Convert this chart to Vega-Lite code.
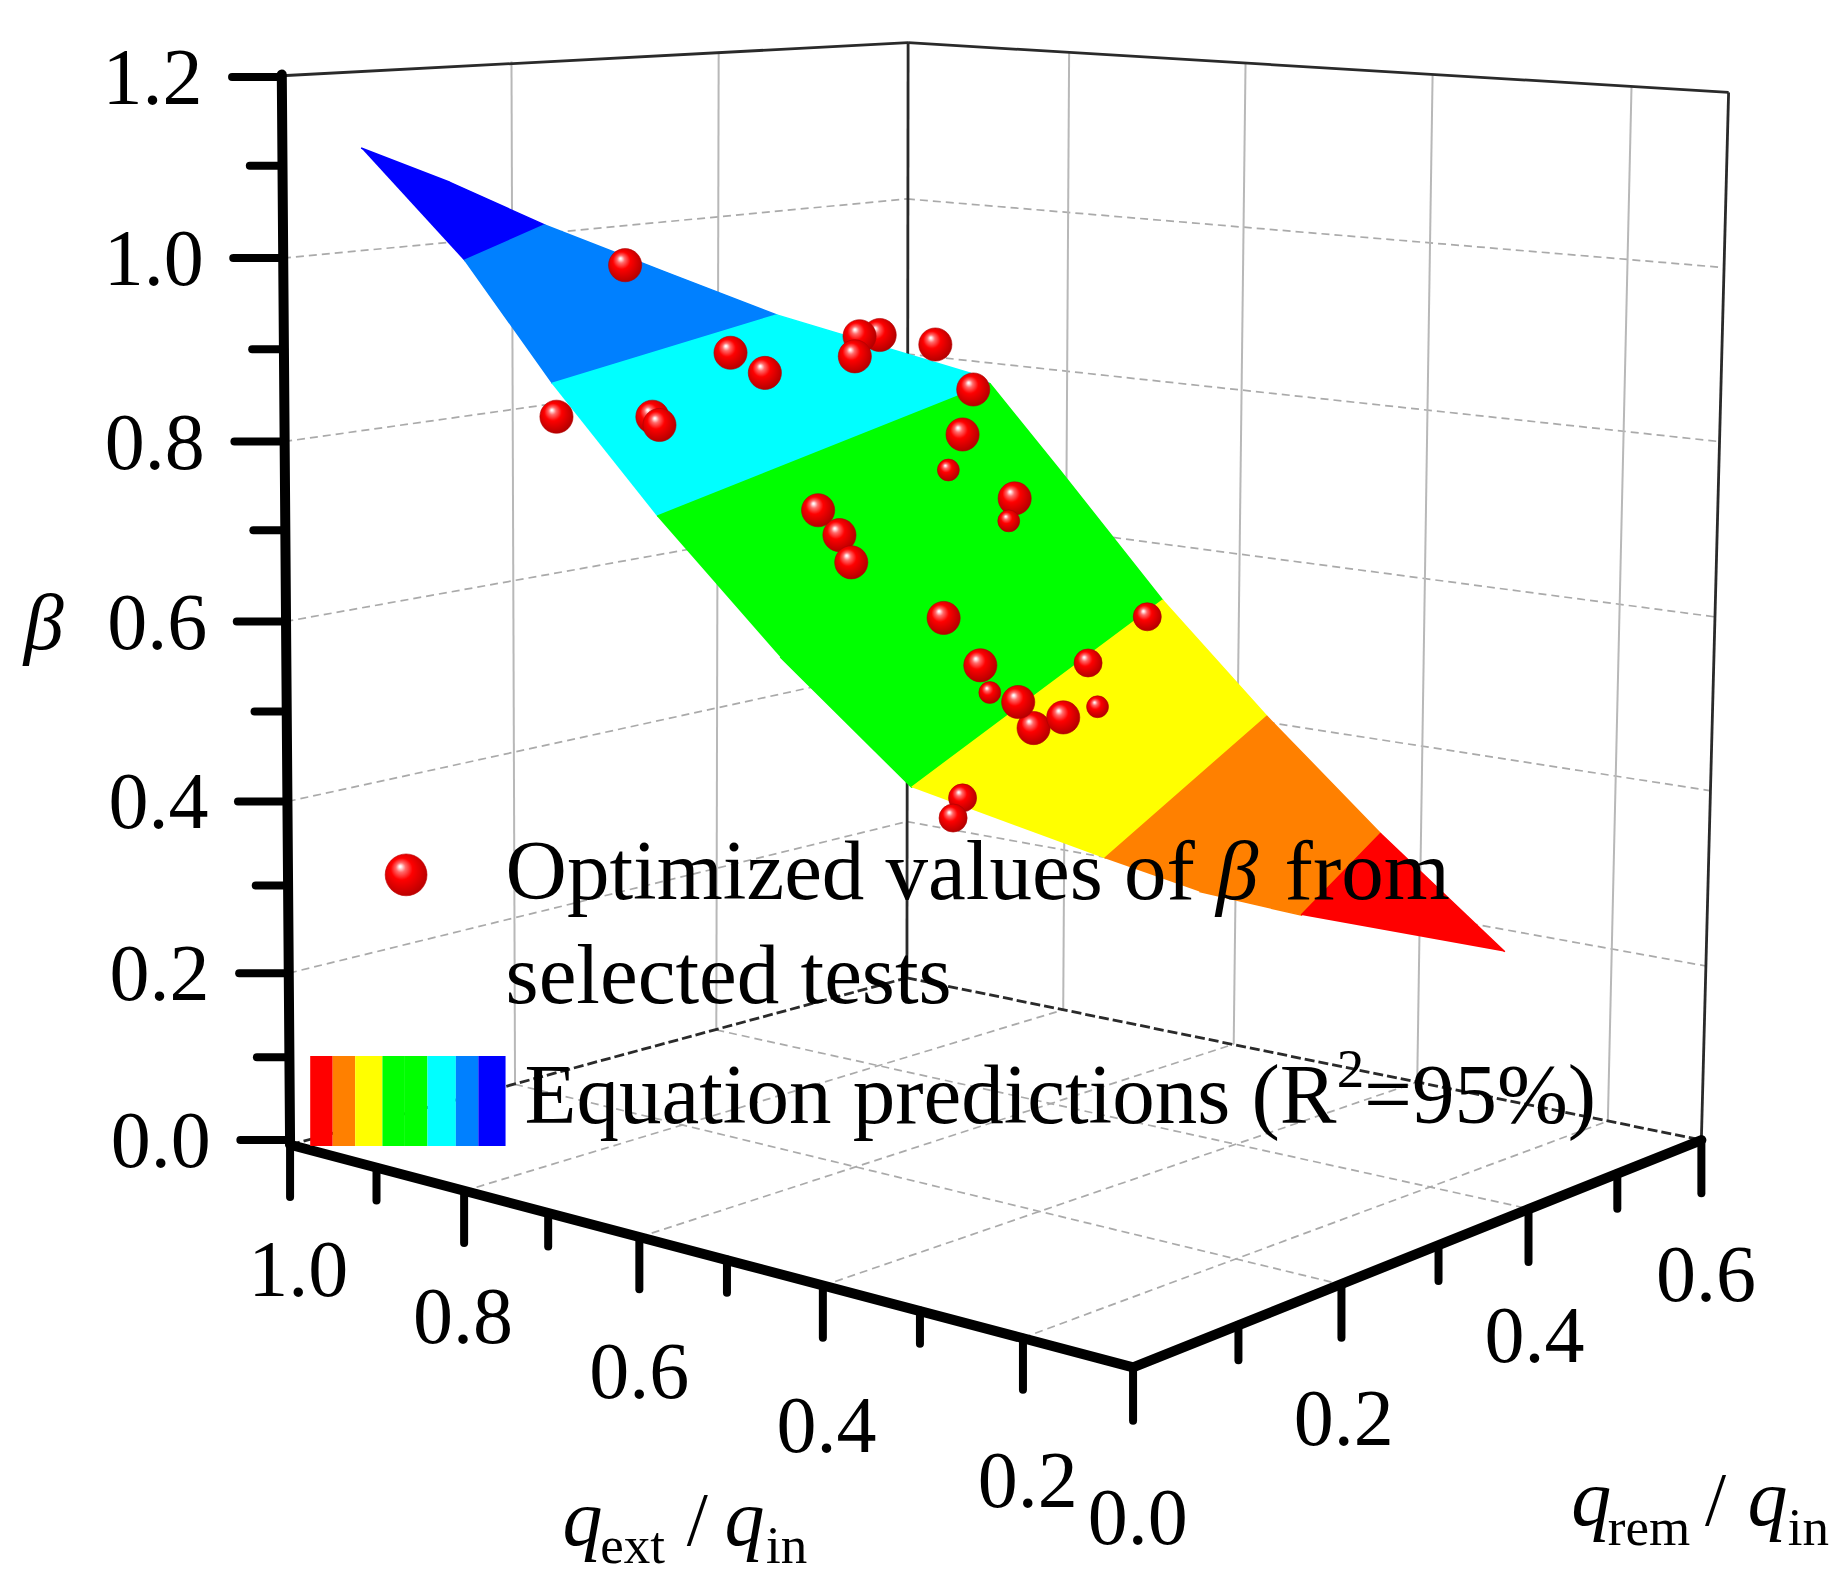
{
  "$schema": "https://vega.github.io/schema/vega-lite/v6.json",
  "width": 1847,
  "height": 1584,
  "autosize": {"type": "fit", "contains": "padding"},
  "padding": 0,
  "background": "white",
  "config": {"view": {"stroke": null}},
  "datasets": {
    "segments": [
      {"kind": "gridh", "x": 244, "y": 822, "x2": 766, "y2": 694},
      {"kind": "gridh", "x": 243, "y": 677, "x2": 766, "y2": 563},
      {"kind": "gridh", "x": 241, "y": 525, "x2": 766, "y2": 431},
      {"kind": "gridh", "x": 240, "y": 373, "x2": 766, "y2": 299},
      {"kind": "gridh", "x": 239, "y": 218, "x2": 766, "y2": 168},
      {"kind": "gridh", "x": 766, "y": 694, "x2": 1441, "y2": 816},
      {"kind": "gridh", "x": 766, "y": 563, "x2": 1445, "y2": 668},
      {"kind": "gridh", "x": 766, "y": 431, "x2": 1448, "y2": 521},
      {"kind": "gridh", "x": 766, "y": 299, "x2": 1452, "y2": 373},
      {"kind": "gridh", "x": 766, "y": 168, "x2": 1456, "y2": 226},
      {"kind": "gridh", "x": 392, "y": 1006, "x2": 898, "y2": 853},
      {"kind": "gridh", "x": 540, "y": 1045, "x2": 1042, "y2": 882},
      {"kind": "gridh", "x": 695, "y": 1086, "x2": 1197, "y2": 914},
      {"kind": "gridh", "x": 864, "y": 1130, "x2": 1358, "y2": 947},
      {"kind": "gridh", "x": 435, "y": 916, "x2": 1133, "y2": 1085},
      {"kind": "gridh", "x": 605, "y": 870, "x2": 1291, "y2": 1021},
      {"kind": "gridv", "x": 432, "y": 52, "x2": 435, "y2": 916},
      {"kind": "gridv", "x": 607, "y": 44, "x2": 605, "y2": 870},
      {"kind": "gridv", "x": 903, "y": 44, "x2": 898, "y2": 853},
      {"kind": "gridv", "x": 1052, "y": 53, "x2": 1042, "y2": 882},
      {"kind": "gridv", "x": 1210, "y": 63, "x2": 1197, "y2": 914},
      {"kind": "gridv", "x": 1378, "y": 73, "x2": 1358, "y2": 947},
      {"kind": "edge", "x": 238, "y": 64, "x2": 767, "y2": 36},
      {"kind": "edge", "x": 767, "y": 36, "x2": 1460, "y2": 78},
      {"kind": "edge", "x": 1460, "y": 78, "x2": 1437, "y2": 963},
      {"kind": "edge", "x": 767, "y": 36, "x2": 766, "y2": 826},
      {"kind": "edged", "x": 245, "y": 967, "x2": 766, "y2": 826},
      {"kind": "edged", "x": 766, "y": 826, "x2": 1437, "y2": 963},
      {"kind": "axis", "x": 245, "y": 966, "x2": 238, "y2": 63},
      {"kind": "axis", "x": 245, "y": 967, "x2": 957, "y2": 1155},
      {"kind": "axis", "x": 957, "y": 1155, "x2": 1437, "y2": 963},
      {"kind": "tick", "x": 245, "y": 963, "x2": 203, "y2": 963},
      {"kind": "tick", "x": 244, "y": 893, "x2": 217, "y2": 893},
      {"kind": "tick", "x": 244, "y": 822, "x2": 202, "y2": 822},
      {"kind": "tick", "x": 243, "y": 748, "x2": 216, "y2": 748},
      {"kind": "tick", "x": 243, "y": 677, "x2": 201, "y2": 677},
      {"kind": "tick", "x": 242, "y": 601, "x2": 215, "y2": 601},
      {"kind": "tick", "x": 241, "y": 525, "x2": 200, "y2": 525},
      {"kind": "tick", "x": 241, "y": 448, "x2": 214, "y2": 448},
      {"kind": "tick", "x": 240, "y": 373, "x2": 198, "y2": 373},
      {"kind": "tick", "x": 240, "y": 295, "x2": 213, "y2": 295},
      {"kind": "tick", "x": 239, "y": 218, "x2": 197, "y2": 218},
      {"kind": "tick", "x": 239, "y": 140, "x2": 211, "y2": 140},
      {"kind": "tick", "x": 238, "y": 65, "x2": 196, "y2": 65},
      {"kind": "tick", "x": 245, "y": 967, "x2": 245, "y2": 1011},
      {"kind": "tick", "x": 318, "y": 986, "x2": 318, "y2": 1014},
      {"kind": "tick", "x": 392, "y": 1006, "x2": 392, "y2": 1050},
      {"kind": "tick", "x": 463, "y": 1025, "x2": 463, "y2": 1053},
      {"kind": "tick", "x": 540, "y": 1045, "x2": 540, "y2": 1089},
      {"kind": "tick", "x": 614, "y": 1064, "x2": 614, "y2": 1092},
      {"kind": "tick", "x": 695, "y": 1086, "x2": 695, "y2": 1130},
      {"kind": "tick", "x": 777, "y": 1107, "x2": 777, "y2": 1135},
      {"kind": "tick", "x": 864, "y": 1130, "x2": 864, "y2": 1174},
      {"kind": "tick", "x": 957, "y": 1155, "x2": 957, "y2": 1200},
      {"kind": "tick", "x": 1046, "y": 1119, "x2": 1046, "y2": 1149},
      {"kind": "tick", "x": 1133, "y": 1085, "x2": 1133, "y2": 1130},
      {"kind": "tick", "x": 1215, "y": 1052, "x2": 1215, "y2": 1082},
      {"kind": "tick", "x": 1291, "y": 1021, "x2": 1291, "y2": 1066},
      {"kind": "tick", "x": 1366, "y": 991, "x2": 1366, "y2": 1021},
      {"kind": "tick", "x": 1437, "y": 963, "x2": 1437, "y2": 1008}
    ],
    "surface": [
      {"level": 8, "v": 1, "x": 305, "y": 125},
      {"level": 8, "v": 2, "x": 380, "y": 154},
      {"level": 8, "v": 3, "x": 460, "y": 190},
      {"level": 8, "v": 4, "x": 392, "y": 220},
      {"level": 7, "v": 1, "x": 392, "y": 220},
      {"level": 7, "v": 2, "x": 460, "y": 190},
      {"level": 7, "v": 3, "x": 560, "y": 229},
      {"level": 7, "v": 4, "x": 656, "y": 266},
      {"level": 7, "v": 5, "x": 466, "y": 324},
      {"level": 6, "v": 1, "x": 466, "y": 324},
      {"level": 6, "v": 2, "x": 656, "y": 266},
      {"level": 6, "v": 3, "x": 819, "y": 315},
      {"level": 6, "v": 4, "x": 836, "y": 324},
      {"level": 6, "v": 5, "x": 555, "y": 436},
      {"level": 4, "v": 1, "x": 555, "y": 436},
      {"level": 4, "v": 2, "x": 836, "y": 324},
      {"level": 4, "v": 3, "x": 895, "y": 397},
      {"level": 4, "v": 4, "x": 982, "y": 507},
      {"level": 4, "v": 5, "x": 770, "y": 665},
      {"level": 4, "v": 6, "x": 659, "y": 555},
      {"level": 3, "v": 1, "x": 770, "y": 665},
      {"level": 3, "v": 2, "x": 982, "y": 507},
      {"level": 3, "v": 3, "x": 1070, "y": 605},
      {"level": 3, "v": 4, "x": 933, "y": 725},
      {"level": 2, "v": 1, "x": 933, "y": 725},
      {"level": 2, "v": 2, "x": 1070, "y": 605},
      {"level": 2, "v": 3, "x": 1166, "y": 704},
      {"level": 2, "v": 4, "x": 1099, "y": 773},
      {"level": 2, "v": 5, "x": 1013, "y": 753},
      {"level": 1, "v": 1, "x": 1099, "y": 773},
      {"level": 1, "v": 2, "x": 1166, "y": 704},
      {"level": 1, "v": 3, "x": 1271, "y": 804}
    ],
    "colorbar": [
      {"level": 1, "x": 262, "x2": 281, "y": 892, "y2": 968},
      {"level": 2, "x": 281, "x2": 300, "y": 892, "y2": 968},
      {"level": 3, "x": 300, "x2": 323, "y": 892, "y2": 968},
      {"level": 4, "x": 323, "x2": 342, "y": 892, "y2": 968},
      {"level": 5, "x": 342, "x2": 361, "y": 892, "y2": 968},
      {"level": 6, "x": 361, "x2": 385, "y": 892, "y2": 968},
      {"level": 7, "x": 385, "x2": 404, "y": 892, "y2": 968},
      {"level": 8, "x": 404, "x2": 427, "y": 892, "y2": 968}
    ],
    "points": [
      {"x": 470, "y": 352, "part": "full"},
      {"x": 528, "y": 224, "part": "full"},
      {"x": 551, "y": 352, "part": "full"},
      {"x": 557, "y": 359, "part": "full"},
      {"x": 617, "y": 298, "part": "full"},
      {"x": 646, "y": 315, "part": "full"},
      {"x": 743, "y": 283, "part": "full"},
      {"x": 726, "y": 284, "part": "full"},
      {"x": 722, "y": 301, "part": "full"},
      {"x": 790, "y": 291, "part": "full"},
      {"x": 822, "y": 329, "part": "full"},
      {"x": 813, "y": 367, "part": "full"},
      {"x": 801, "y": 397, "part": "tiny"},
      {"x": 857, "y": 421, "part": "full"},
      {"x": 852, "y": 440, "part": "tiny"},
      {"x": 691, "y": 431, "part": "full"},
      {"x": 709, "y": 452, "part": "full"},
      {"x": 719, "y": 475, "part": "full"},
      {"x": 797, "y": 522, "part": "full"},
      {"x": 828, "y": 562, "part": "full"},
      {"x": 836, "y": 585, "part": "tiny"},
      {"x": 873, "y": 615, "part": "full"},
      {"x": 860, "y": 593, "part": "full"},
      {"x": 898, "y": 606, "part": "full"},
      {"x": 919, "y": 560, "part": "partial"},
      {"x": 927, "y": 597, "part": "tiny"},
      {"x": 969, "y": 521, "part": "partial"},
      {"x": 813, "y": 674, "part": "partial"},
      {"x": 805, "y": 691, "part": "partial"}
    ],
    "legendpoint": [{"x": 343, "y": 739}],
    "texts": [
      {"role": "zlab", "x": 178, "y": 963, "text": "0.0"},
      {"role": "zlab", "x": 177, "y": 822, "text": "0.2"},
      {"role": "zlab", "x": 176, "y": 677, "text": "0.4"},
      {"role": "zlab", "x": 175, "y": 525, "text": "0.6"},
      {"role": "zlab", "x": 173, "y": 373, "text": "0.8"},
      {"role": "zlab", "x": 172, "y": 218, "text": "1.0"},
      {"role": "zlab", "x": 171, "y": 65, "text": "1.2"},
      {"role": "hlab", "x": 252, "y": 1072, "text": "1.0"},
      {"role": "hlab", "x": 391, "y": 1112, "text": "0.8"},
      {"role": "hlab", "x": 540, "y": 1158, "text": "0.6"},
      {"role": "hlab", "x": 698, "y": 1204, "text": "0.4"},
      {"role": "hlab", "x": 868, "y": 1250, "text": "0.2"},
      {"role": "hlab", "x": 961, "y": 1281, "text": "0.0"},
      {"role": "hlab", "x": 1135, "y": 1198, "text": "0.2"},
      {"role": "hlab", "x": 1296, "y": 1128, "text": "0.4"},
      {"role": "hlab", "x": 1441, "y": 1076, "text": "0.6"},
      {"role": "italic", "x": 20, "y": 548, "text": "β"},
      {"role": "italic", "x": 475, "y": 1305, "text": "q"},
      {"role": "italic", "x": 612, "y": 1305, "text": "q"},
      {"role": "italic", "x": 1327, "y": 1288, "text": "q"},
      {"role": "italic", "x": 1476, "y": 1288, "text": "q"},
      {"role": "sub", "x": 507, "y": 1320, "text": "ext"},
      {"role": "sub", "x": 647, "y": 1320, "text": "in"},
      {"role": "sub", "x": 1358, "y": 1305, "text": "rem"},
      {"role": "sub", "x": 1510, "y": 1305, "text": "in"},
      {"role": "slash", "x": 580, "y": 1305, "text": "/"},
      {"role": "slash", "x": 1440, "y": 1288, "text": "/"},
      {"role": "legend", "x": 427, "y": 759, "text": "Optimized values of"},
      {"role": "legit", "x": 1027, "y": 759, "text": "β"},
      {"role": "legend", "x": 1085, "y": 759, "text": "from"},
      {"role": "legend", "x": 427, "y": 847, "text": "selected tests"},
      {"role": "legend", "x": 443, "y": 949, "text": "Equation predictions (R"},
      {"role": "sup", "x": 1129, "y": 918, "text": "2"},
      {"role": "legend", "x": 1152, "y": 949, "text": "=95%)"}
    ]
  },
  "encoding": {
    "x": {"field": "x", "type": "quantitative", "scale": {"domain": [0, 1560], "nice": false, "zero": false}, "axis": null},
    "y": {"field": "y", "type": "quantitative", "scale": {"domain": [0, 1338], "nice": false, "zero": false, "reverse": true}, "axis": null}
  },
  "layer": [
    {
      "data": {"name": "segments"},
      "transform": [{"filter": "datum.kind == 'gridh'"}],
      "mark": {"type": "rule", "color": "#aaaaaa", "strokeWidth": 1.7, "strokeDash": [8, 5]},
      "encoding": {"x2": {"field": "x2"}, "y2": {"field": "y2"}}
    },
    {
      "data": {"name": "segments"},
      "transform": [{"filter": "datum.kind == 'gridv'"}],
      "mark": {"type": "rule", "color": "#b8b8b8", "strokeWidth": 2},
      "encoding": {"x2": {"field": "x2"}, "y2": {"field": "y2"}}
    },
    {
      "data": {"name": "segments"},
      "transform": [{"filter": "datum.kind == 'edge'"}],
      "mark": {"type": "rule", "color": "#2a2a2a", "strokeWidth": 2.8},
      "encoding": {"x2": {"field": "x2"}, "y2": {"field": "y2"}}
    },
    {
      "data": {"name": "segments"},
      "transform": [{"filter": "datum.kind == 'edged'"}],
      "mark": {"type": "rule", "color": "#2a2a2a", "strokeWidth": 2.8, "strokeDash": [10, 4]},
      "encoding": {"x2": {"field": "x2"}, "y2": {"field": "y2"}}
    },
    {
      "data": {"name": "segments"},
      "transform": [{"filter": "datum.kind == 'axis'"}],
      "mark": {"type": "rule", "color": "black", "strokeWidth": 10, "strokeCap": "round"},
      "encoding": {"x2": {"field": "x2"}, "y2": {"field": "y2"}}
    },
    {
      "data": {"name": "segments"},
      "transform": [{"filter": "datum.kind == 'tick'"}],
      "mark": {"type": "rule", "color": "black", "strokeWidth": 8, "strokeCap": "round"},
      "encoding": {"x2": {"field": "x2"}, "y2": {"field": "y2"}}
    },
    {
      "data": {"name": "surface"},
      "mark": {"type": "line", "filled": true, "strokeWidth": 1.5, "strokeJoin": "round"},
      "encoding": {
        "order": {"field": "v", "type": "quantitative"},
        "detail": {"field": "level", "type": "nominal"},
        "color": {
          "field": "level", "type": "ordinal",
          "scale": {"domain": [1, 2, 3, 4, 5, 6, 7, 8], "range": ["#ff0000", "#ff8000", "#ffff00", "#00ff00", "#00ff00", "#00ffff", "#0080ff", "#0000ff"]},
          "legend": null
        },
        "stroke": {
          "field": "level", "type": "ordinal",
          "scale": {"domain": [1, 2, 3, 4, 5, 6, 7, 8], "range": ["#ff0000", "#ff8000", "#ffff00", "#00ff00", "#00ff00", "#00ffff", "#0080ff", "#0000ff"]},
          "legend": null
        }
      }
    },
    {
      "data": {"name": "points"},
      "mark": {
        "type": "point", "shape": "circle", "filled": true, "opacity": 1,
        "fill": {"gradient": "radial", "x1": 0.36, "y1": 0.3, "r1": 0.02, "x2": 0.45, "y2": 0.45, "r2": 0.62,
          "stops": [{"offset": 0, "color": "#ffffff"}, {"offset": 0.16, "color": "#ff6a6a"}, {"offset": 0.4, "color": "#ff0000"}, {"offset": 1, "color": "#a80000"}]},
        "stroke": "#b00000", "strokeWidth": 0.6
      },
      "encoding": {
        "size": {"field": "part", "type": "ordinal", "scale": {"domain": ["full", "partial", "tiny"], "range": [1100, 480, 60]}, "legend": null}
      }
    },
    {
      "data": {"name": "colorbar"},
      "mark": {"type": "rect"},
      "encoding": {
        "x2": {"field": "x2"},
        "y2": {"field": "y2"},
        "color": {
          "field": "level", "type": "ordinal",
          "scale": {"domain": [1, 2, 3, 4, 5, 6, 7, 8], "range": ["#ff0000", "#ff8000", "#ffff00", "#00ff00", "#00ff00", "#00ffff", "#0080ff", "#0000ff"]},
          "legend": null
        }
      }
    },
    {
      "data": {"name": "legendpoint"},
      "mark": {
        "type": "point", "shape": "circle", "filled": true, "opacity": 1, "size": 1750,
        "fill": {"gradient": "radial", "x1": 0.36, "y1": 0.3, "r1": 0.02, "x2": 0.45, "y2": 0.45, "r2": 0.62,
          "stops": [{"offset": 0, "color": "#ffffff"}, {"offset": 0.16, "color": "#ff6a6a"}, {"offset": 0.4, "color": "#ff0000"}, {"offset": 1, "color": "#b00000"}]},
        "stroke": "#c00000", "strokeWidth": 0.6
      }
    },
    {
      "data": {"name": "texts"},
      "transform": [{"filter": "datum.role == 'zlab'"}],
      "mark": {"type": "text", "font": "Liberation Serif", "fontSize": 80, "align": "right", "baseline": "middle", "dy": 3, "color": "black"},
      "encoding": {"text": {"field": "text"}}
    },
    {
      "data": {"name": "texts"},
      "transform": [{"filter": "datum.role == 'hlab'"}],
      "mark": {"type": "text", "font": "Liberation Serif", "fontSize": 80, "align": "center", "baseline": "middle", "dy": 3, "color": "black"},
      "encoding": {"text": {"field": "text"}}
    },
    {
      "data": {"name": "texts"},
      "transform": [{"filter": "datum.role == 'italic'"}],
      "mark": {"type": "text", "font": "Liberation Serif", "fontStyle": "italic", "fontSize": 80, "align": "left", "baseline": "alphabetic", "color": "black"},
      "encoding": {"text": {"field": "text"}}
    },
    {
      "data": {"name": "texts"},
      "transform": [{"filter": "datum.role == 'sub'"}],
      "mark": {"type": "text", "font": "Liberation Serif", "fontSize": 53, "align": "left", "baseline": "alphabetic", "color": "black"},
      "encoding": {"text": {"field": "text"}}
    },
    {
      "data": {"name": "texts"},
      "transform": [{"filter": "datum.role == 'slash'"}],
      "mark": {"type": "text", "font": "Liberation Serif", "fontSize": 76, "align": "left", "baseline": "alphabetic", "color": "black"},
      "encoding": {"text": {"field": "text"}}
    },
    {
      "data": {"name": "texts"},
      "transform": [{"filter": "datum.role == 'legend'"}],
      "mark": {"type": "text", "font": "Liberation Serif", "fontSize": 85, "align": "left", "baseline": "alphabetic", "color": "black"},
      "encoding": {"text": {"field": "text"}}
    },
    {
      "data": {"name": "texts"},
      "transform": [{"filter": "datum.role == 'legit'"}],
      "mark": {"type": "text", "font": "Liberation Serif", "fontStyle": "italic", "fontSize": 85, "align": "left", "baseline": "alphabetic", "color": "black"},
      "encoding": {"text": {"field": "text"}}
    },
    {
      "data": {"name": "texts"},
      "transform": [{"filter": "datum.role == 'sup'"}],
      "mark": {"type": "text", "font": "Liberation Serif", "fontSize": 55, "align": "left", "baseline": "alphabetic", "color": "black"},
      "encoding": {"text": {"field": "text"}}
    }
  ]
}
